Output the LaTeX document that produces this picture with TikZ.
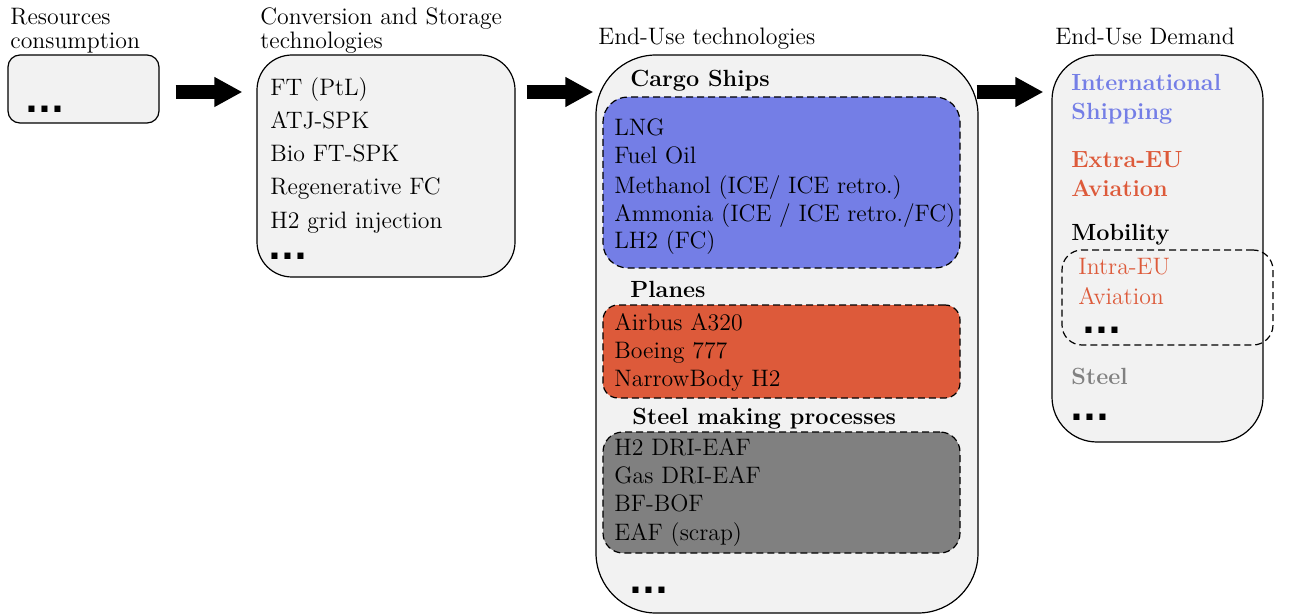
\documentclass[tikz,border=0pt]{standalone}
\usepackage{fontspec}
\newfontfamily\dotfont{DejaVu Sans}
\usetikzlibrary{arrows.meta}
\definecolor{shipblue}{RGB}{116,126,230}
\definecolor{planered}{RGB}{221,90,58}
\definecolor{steelgray}{RGB}{128,128,128}
\definecolor{boxfill}{RGB}{242,242,242}
\tikzset{
  txt/.style={anchor=base west, inner sep=0pt, font=\fontsize{11.9}{14}\selectfont},
  btxt/.style={anchor=base west, inner sep=0pt, font=\fontsize{11.7}{14}\selectfont\bfseries},
  dotsnode/.style={anchor=base west, inner sep=0pt, font=\dotfont\fontsize{17}{17}\selectfont\bfseries},
  panel/.style={draw=black, fill=boxfill, line width=0.6pt, rectangle, inner sep=0pt},
  group/.style={draw=black, dash pattern=on 3.5pt off 2pt, line width=0.6pt, rectangle, inner sep=0pt},
  bigarrow/.style={line width=7pt, -{Triangle[length=14pt, width=14pt]}},
}
\begin{document}
\begin{tikzpicture}[x=0.5pt, y=-0.5pt]
\useasboundingbox (0,0) rectangle (1292,615);

% ---------- Column 1 ----------
\node[txt] (t1a) at (10,25) {Resources};
\node[txt] (t1b) at (10,49) {consumption};
\node[panel, rounded corners=6pt, minimum width=75.5pt, minimum height=34pt] (b1) at (83.5,89) {};
\node[dotsnode] (d1) at (25,113) {...};

% ---------- Column 2 ----------
\node[txt] (t2a) at (260,25) {Conversion and Storage};
\node[txt] (t2b) at (260,49) {technologies};
\node[panel, rounded corners=17.5pt, minimum width=129pt, minimum height=111pt] (b2) at (386,166) {};
\node[txt] (c1) at (270,96) {FT (PtL)};
\node[txt] (c2) at (270,129) {ATJ-SPK};
\node[txt] (c3) at (270,162) {Bio FT-SPK};
\node[txt] (c4) at (270,195) {Regenerative FC};
\node[txt] (c5) at (270,228) {H2 grid injection};
\node[dotsnode] (d2) at (268,260) {...};

% ---------- Column 3 ----------
\node[txt] (t3) at (598,45) {End-Use technologies};
\node[panel, rounded corners=30pt, minimum width=191pt, minimum height=279pt] (b3) at (787,334) {};

\node[btxt] (h1) at (630,87) {Cargo Ships};
\node[group, fill=shipblue, rounded corners=12.5pt, minimum width=178.5pt, minimum height=85.5pt] (g1) at (781.5,182.5) {};
\node[txt] (s1) at (614,136) {LNG};
\node[txt] (s2) at (614,164) {Fuel Oil};
\node[txt] (s3) at (614,193) {Methanol (ICE/ ICE retro.)};
\node[txt] (s4) at (614,221) {Ammonia (ICE / ICE retro./FC)};
\node[txt] (s5) at (614,249) {LH2 (FC)};

\node[btxt] (h2) at (630,297) {Planes};
\node[group, fill=planered, rounded corners=7.5pt, minimum width=178.5pt, minimum height=46.5pt] (g2) at (781.5,351.5) {};
\node[txt] (p1) at (614,330) {Airbus A320};
\node[txt] (p2) at (614,358) {Boeing 777};
\node[txt] (p3) at (614,386) {NarrowBody H2};

\node[btxt] (h3) at (632,424) {Steel making processes};
\node[group, fill=steelgray, rounded corners=10pt, minimum width=178.5pt, minimum height=60.5pt] (g3) at (781.5,492.5) {};
\node[txt] (m1) at (614,455) {H2 DRI-EAF};
\node[txt] (m2) at (614,483) {Gas DRI-EAF};
\node[txt] (m3) at (614,511) {BF-BOF};
\node[txt] (m4) at (614,540) {EAF (scrap)};
\node[dotsnode] (d3) at (629,593) {...};

% ---------- Column 4 ----------
\node[txt] (t4) at (1055,45) {End-Use Demand};
\node[panel, rounded corners=22.5pt, minimum width=105.5pt, minimum height=193.5pt] (b4) at (1157.5,248.5) {};
\node[btxt, text=shipblue] (e1) at (1071,91) {International};
\node[btxt, text=shipblue] (e2) at (1071,120) {Shipping};
\node[btxt, text=planered] (e3) at (1071,168) {Extra-EU};
\node[btxt, text=planered] (e4) at (1071,197) {Aviation};
\node[btxt] (e5) at (1071,241) {Mobility};
\node[group, rounded corners=10pt, minimum width=105.5pt, minimum height=47.5pt] (g4) at (1167.5,297.5) {};
\node[txt, text=planered] (e6) at (1078,275) {Intra-EU};
\node[txt, text=planered] (e7) at (1078,304) {Aviation};
\node[dotsnode] (d4) at (1082,333) {...};
\node[btxt, text=steelgray] (e8) at (1071,384) {Steel};
\node[dotsnode] (d5) at (1070,420) {...};

% ---------- Arrows ----------
\draw[bigarrow] ([xshift=8pt,yshift=-1.5pt]b1.east) coordinate (s1a) -- ([xshift=-7pt]b2.west |- s1a);
\draw[bigarrow] ([xshift=5.5pt]b2.east |- s1a) -- ([xshift=-1pt]b3.west |- s1a);
\draw[bigarrow] ([xshift=-1pt]b3.east |- s1a) -- ([xshift=-4pt]b4.west |- s1a);
\end{tikzpicture}
\end{document}
